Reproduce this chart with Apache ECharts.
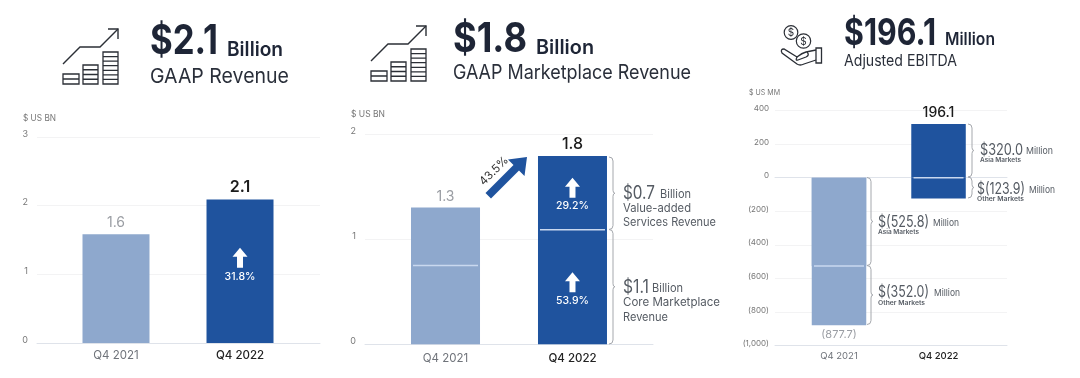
<!DOCTYPE html>
<html><head><meta charset="utf-8">
<style>html,body{margin:0;padding:0;background:#fff}#c{width:1080px;height:378px}</style>
<script src="https://cdn.jsdelivr.net/npm/echarts@6/dist/echarts.min.js"></script>
</head><body><div id="c"></div>
<script>
const categories = ['Q4 2021', 'Q4 2022'];
const gaapRevenue = [1.6, 2.1];
const gaapRevenueDrawn = [1.585, 2.09];
const marketplaceCore = [0.75, 1.09];
const marketplaceServices = [0.55, 0.70];
const marketplaceTotals = [1.3, 1.8];
const ebitdaAsia = [-525.8, 320.0];
const ebitdaOther = [-352.0, -123.9];
const ebitdaTotals = [-877.7, 196.1];
const ticks1 = [0, 1, 2, 3];

const FONT = 'Inter, Roboto, sans-serif';
const LIGHT = '#8ea8cd', DARK = '#1f539e', NAVY = '#1e2536', GREY = '#555b63', AXIS = '#777';
const ARROW = 'path://M7.5 0 L15 9 L10.5 9 L10.5 20 L4.5 20 L4.5 9 L0 9 Z';

function pairs(arr){ return arr.map((v,i)=>[i,v]); }
function grid(left,right,top,bottom){ return {left:left,top:top,width:right-left,height:bottom-top,containLabel:false}; }
function xAxis(idx,min,max,size,margin){
  return {type:'value',gridIndex:idx,min:min,max:max,
    axisLine:{show:true,onZero:false,lineStyle:{color:'#dfe3ea',width:1}},axisTick:{show:false},splitLine:{show:false},
    axisLabel:{customValues:[0,1],margin:margin,fontFamily:FONT,hideOverlap:false,
      formatter:v=>v===0?'{a|'+categories[0]+'}':'{b|'+categories[1]+'}',
      rich:{a:{color:'#6f737a',fontSize:size,fontFamily:FONT},b:{color:'#222',fontSize:size,fontWeight:500,fontFamily:FONT}}}};
}
function yAxis(idx,min,max,interval,margin,size,lift,fmt){
  return {type:'value',gridIndex:idx,min:min,max:max,interval:interval,
    axisLine:{show:false},axisTick:{show:false},
    splitLine:{show:true,lineStyle:{color:'#f3f3f4',width:1}},
    axisLabel:{margin:margin,color:AXIS,fontSize:size,fontFamily:FONT,verticalAlign:'bottom',lineHeight:lift*2,formatter:fmt}};
}
function totalLabel(texts,pos,weight,size,lightSize){
  return {show:true,position:pos,distance:4,fontFamily:FONT,
    formatter:p=>texts[p.dataIndex]===''?'':(p.dataIndex===0?'{a|':'{b|')+texts[p.dataIndex]+'}',
    rich:{a:{color:'#9a9da3',fontSize:lightSize||14,fontFamily:FONT},b:{color:'#1c1c1c',fontSize:size||16,fontWeight:weight||500,fontFamily:FONT}}};
}
function colored(v,i){ return {value:[i,v],itemStyle:{color:i===0?LIGHT:DARK}}; }
function bar(idx,name,values,width,label){
  return {type:'bar',name:name,xAxisIndex:idx,yAxisIndex:idx,barWidth:width,barGap:'-100%',z:2,
    data:values.map(colored),label:label||{show:false},emphasis:{disabled:true},silent:true};
}
function upArrow(idx,x,y,text,size){
  return {type:'scatter',xAxisIndex:idx,yAxisIndex:idx,symbol:ARROW,symbolSize:[15,20],z:4,silent:true,
    itemStyle:{color:'#fff',opacity:1},data:[[x,y]],
    label:{show:true,position:'bottom',distance:3,color:'#fff',fontSize:size,fontWeight:500,fontFamily:FONT,formatter:()=>text}};
}
function divider(idx,points,width){
  return {type:'scatter',xAxisIndex:idx,yAxisIndex:idx,symbol:'rect',symbolSize:[width,1.4],z:3,silent:true,
    itemStyle:{color:'#c9d8ef',opacity:1},data:points};
}
const measureCtx=document.createElement('canvas').getContext('2d');
function txt(x,y,text,size,weight,fill,targetWidth){
  const w=weight||400;
  let sx=1;
  if(targetWidth){measureCtx.font=w+' '+size+'px '+FONT;sx=targetWidth/measureCtx.measureText(text).width;}
  return {type:'text',silent:true,z:10,x:x,y:y,scaleX:sx,style:{x:0,y:0,text:text,fontSize:size,fontWeight:w,fontFamily:FONT,fill:fill||GREY,verticalAlign:'middle',align:'left'}};
}
let shapeId=0;
function pathEl(d,style){
  const name='svgshape'+(shapeId++);
  echarts.graphic.registerShape(name,echarts.graphic.extendPath(d));
  return {type:name,silent:true,z:10,style:style};
}
function brace(x,y1,y2){
  const m=(y1+y2)/2,w=4;
  return pathEl(`M${x} ${y1} Q${x+w} ${y1} ${x+w} ${y1+4} L${x+w} ${m-3} Q${x+w} ${m} ${x+w+2} ${m} Q${x+w} ${m} ${x+w} ${m+3} L${x+w} ${y2-4} Q${x+w} ${y2} ${x} ${y2}`,{stroke:'#a5a8ad',lineWidth:1,fill:null});
}
function line(d,w){ return pathEl(d,{stroke:'#2b2f36',lineWidth:w||1.4,fill:null}); }
function chartIcon(ox,oy){
  const out=[];
  out.push(line(`M${ox} ${oy+35} L${ox+17} ${oy+18} L${ox+37} ${oy+18} L${ox+55} ${oy}`));
  out.push(line(`M${ox+45} ${oy} L${ox+55} ${oy} L${ox+55} ${oy+10}`));
  [[0,16,45,55,1],[20,35,36,55,3],[40,55,23,55,6]].forEach(b=>{
    let d=`M${ox+b[0]} ${oy+b[2]} H${ox+b[1]} V${oy+b[3]} H${ox+b[0]} Z`;
    for(let i=1;i<b[4]+1;i++){const yy=oy+b[2]+(b[3]-b[2])*i/(b[4]+1);d+=` M${ox+b[0]} ${yy} H${ox+b[1]}`;}
    out.push(line(d,1.3));
  });
  return out;
}
function coinIcon(){
  const out=[];
  out.push({type:'circle',silent:true,z:10,shape:{cx:791,cy:32.5,r:6.8},style:{stroke:'#2b2f36',lineWidth:1.2,fill:'#fff'}});
  out.push({type:'circle',silent:true,z:11,shape:{cx:803.5,cy:41,r:7.2},style:{stroke:'#2b2f36',lineWidth:1.2,fill:'#fff'}});
  out.push({type:'text',silent:true,z:12,style:{x:791,y:33,text:'$',fontSize:10,fontFamily:FONT,fill:'#2b2f36',align:'center',verticalAlign:'middle'}});
  out.push({type:'text',silent:true,z:12,style:{x:803.5,y:41.5,text:'$',fontSize:10,fontFamily:FONT,fill:'#2b2f36',align:'center',verticalAlign:'middle'}});
  out.push(line('M816 48 H821.5 V63 H816 Z',1.3));
  out.push(line('M816 50 L806 52 Q802 53 797 57 L784 49 Q780 49 782 53 L797 64 Q800 66 804 64 L816 60',1.3));
  out.push(line('M797 57 Q795 61 798 60 L806 57 Q810 55 807 52',1.3));
  return out;
}
const graphics = [
  txt(150,42,'$2.1',41,700,NAVY,68), txt(227,50,'Billion',20,600,NAVY,56), txt(150,77,'GAAP Revenue',20.5,400,'#2a2f3a',139),
  txt(453,40,'$1.8',41,700,NAVY,74), txt(536,48,'Billion',20,600,NAVY,58), txt(453,73,'GAAP Marketplace Revenue',20,400,'#2a2f3a',238),
  txt(844,34,'$196.1',37,700,NAVY,92), txt(945,40,'Million',17,600,NAVY,50), txt(844,61,'Adjusted EBITDA',15.5,400,'#2a2f3a',113),
  txt(23,118,'$ US BN',8.5,400,AXIS,33), txt(351,114,'$ US BN',8.5,400,AXIS,34), txt(749,93,'$ US MM',7.5,400,AXIS,31),
  brace(609,157,229.5), brace(609,229.5,344),
  txt(623,194,'$0.7',18,400,GREY,32), txt(660,195,'Billion',11.5,400,GREY,31),
  txt(623,209,'Value-added',11.5,400,GREY,68), txt(623,223,'Services Revenue',11.5,400,GREY,93),
  txt(623,288,'$1.1',18,400,GREY,26), txt(652,289,'Billion',11.5,400,GREY,31),
  txt(623,303,'Core Marketplace',11.5,400,GREY,97), txt(623,318,'Revenue',11.5,400,GREY,45),
  brace(968,124,177), brace(968,177,198),
  brace(867,177.5,265.5), brace(867,265.5,324.5),
  txt(980,150,'$320.0',16,400,GREY,43), txt(1026,151,'Million',9.5,400,GREY,27),
  txt(980,160.5,'Asia Markets',6,600,GREY,41),
  txt(977,189,'$(123.9)',16,400,GREY,48), txt(1029,190,'Million',9.5,400,GREY,26),
  txt(977,199,'Other Markets',6,600,GREY,47),
  txt(878,222,'$(525.8)',16,400,GREY,51), txt(933,223,'Million',9.5,400,GREY,26),
  txt(878,232,'Asia Markets',6,600,GREY,41),
  txt(878,292,'$(352.0)',16,400,GREY,51), txt(934,293,'Million',9.5,400,GREY,26),
  txt(878,303,'Other Markets',6,600,GREY,47),
  pathEl('M485.5 193 L513.5 165 L508 159.5 L527 157 L524.5 176 L519 170.5 L491 198.5 Z',{fill:DARK,stroke:null}),
  {type:'text',silent:true,z:10,x:494,y:171,rotation:Math.PI/4,style:{x:0,y:0,text:'43.5%',fontSize:11.5,fontFamily:FONT,fill:'#333',align:'center',verticalAlign:'middle'}}
].concat(chartIcon(63,29),chartIcon(371,26),coinIcon());

// Segments in each panel share one colour, so a stacked column is drawn as the running sum with a divider.
const marketplaceSum = marketplaceCore.map((v,i)=>v+marketplaceServices[i]);
const ebitdaOuter = ebitdaOther.map((v,i)=>ebitdaAsia[i]<0?v+ebitdaAsia[i]:v);
const ebitdaDividers = ebitdaAsia.map((v,i)=>[i,v<0?v:0]);

const option = {
  animation:false,backgroundColor:'#fff',
  grid:[grid(37,320,137,343),grid(365,653,134,344.3),grid(775,1007,110.5,345.7)],
  xAxis:[xAxis(0,-0.637,1.645,11.5,7),xAxis(1,-0.634,1.634,11.5,8),xAxis(2,-0.643,1.688,9.5,5),
    {type:'value',gridIndex:2,min:-0.643,max:1.688,axisLine:{show:true,onZero:true,lineStyle:{color:'#dfe3ea'}},axisTick:{show:false},axisLabel:{show:false},splitLine:{show:false}}],
  yAxis:[yAxis(0,ticks1[0],ticks1[3],1,9,9,3),yAxis(1,0,2,1,9,9,3),
    yAxis(2,-1000,400,200,6,8,2,v=>v<0?'('+Math.abs(v).toLocaleString('en-US')+')':String(v))],
  series:[
    bar(0,'GAAP Revenue',gaapRevenueDrawn,67,totalLabel(gaapRevenue,'top',600,16,14)),
    upArrow(0,1,1.24,'31.8%',10.5),
    bar(1,'Marketplace',marketplaceSum,69,totalLabel(marketplaceTotals,'top',500,16,14)),
    divider(1,pairs(marketplaceCore),65),
    upArrow(1,1,1.49,'29.2%',10.5),upArrow(1,1,0.59,'53.9%',10.5),
    bar(2,'Asia',ebitdaAsia,54.5,totalLabel(['',ebitdaTotals[1]],'top',500,14)),
    bar(2,'Other',ebitdaOuter,54.5,totalLabel(['('+Math.abs(ebitdaTotals[0])+')',''],'bottom',500,14,11)),
    divider(2,ebitdaDividers,50)
  ],
  graphic:{elements:graphics}
};
echarts.init(document.getElementById('c'),null,{renderer:'canvas'}).setOption(option);
</script></body></html>
